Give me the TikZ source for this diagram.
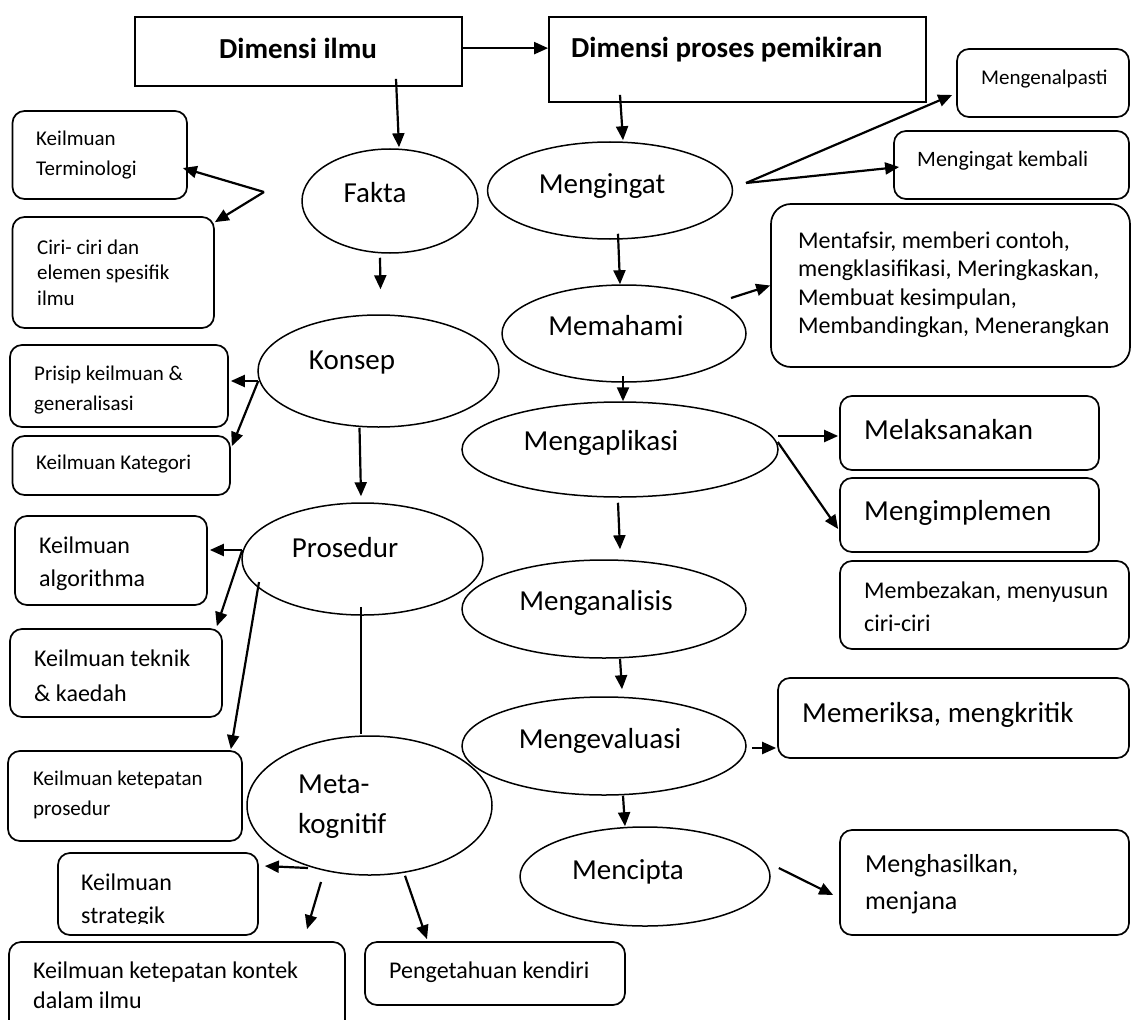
\documentclass[tikz,border=0pt]{standalone}
\usepackage{fontspec}
\setmainfont{Carlito}
\usetikzlibrary{arrows.meta,shapes.geometric,calc}

\begin{document}
\begin{tikzpicture}[x=1pt,y=-1pt,
  box/.style={draw, line width=1.7pt, rounded corners=12pt, inner sep=0pt},
  sharpbox/.style={draw, line width=1.8pt, inner sep=0pt},
  oval/.style={draw, ellipse, line width=1.5pt, inner sep=0pt},
  txt/.style={anchor=base west, inner sep=0pt},
  ctxt/.style={anchor=base, inner sep=0pt},
  arr/.style={line width=2.2pt, -{Triangle[length=14pt,width=12pt]}},
  link/.style={line width=2.2pt},
  big/.style={font=\fontsize{29}{40}\selectfont},
  bigbold/.style={font=\fontsize{29}{35}\selectfont\bfseries}
]
\clip (0,0) rectangle (1131,1019);

% ---------- headings ----------
\node[sharpbox, minimum width=327pt, minimum height=69pt] (ilmu) at (298.5,51.5) {};
\node[sharpbox, minimum width=377pt, minimum height=85pt] (proses) at (737.5,59.5) {};
\node[ctxt, bigbold] (ilmuT) at (298,58.2) {Dimensi ilmu};
\node[txt, bigbold] (prosesT) at (571,57.2) {Dimensi proses pemikiran};

% ---------- knowledge column (ellipses) ----------
\node[oval, minimum width=176pt, minimum height=104pt] (fakta) at (390,201) {};
\node[oval, minimum width=241pt, minimum height=112pt] (konsep) at (378.5,371) {};
\node[oval, minimum width=241pt, minimum height=112pt] (prosedur) at (362.5,559) {};
\node[oval, minimum width=245pt, minimum height=139pt] (meta) at (369.5,805.5) {};
\node[ctxt, big] (faktaT) at (375,202.2) {Fakta};
\node[ctxt, big] (konsepT) at (352,369.2) {Konsep};
\node[ctxt, big] (prosedurT) at (345,557.2) {Prosedur};
\node[txt, big] (metaT) at (298,793.2) {\begin{tabular}[t]{@{}l@{}}Meta-\\kognitif\end{tabular}};

% ---------- thinking column (ellipses) ----------
\node[oval, minimum width=245pt, minimum height=97pt] (ingat) at (610,190.5) {};
\node[oval, minimum width=244pt, minimum height=97pt] (paham) at (624,333.5) {};
\node[oval, minimum width=316pt, minimum height=95pt] (aplikasi) at (620,449.5) {};
\node[oval, minimum width=284pt, minimum height=98pt] (analisis) at (604,609) {};
\node[oval, minimum width=284pt, minimum height=98pt] (evaluasi) at (604,746) {};
\node[oval, minimum width=250pt, minimum height=99pt] (cipta) at (645,876.5) {};
\node[ctxt, big] (ingatT) at (602,193.2) {Mengingat};
\node[ctxt, big] (pahamT) at (616,335.2) {Memahami};
\node[ctxt, big] (aplikasiT) at (601,450.2) {Mengaplikasi};
\node[ctxt, big] (analisisT) at (596,610.2) {Menganalisis};
\node[ctxt, big] (evaluasiT) at (600,748.2) {Mengevaluasi};
\node[ctxt, big] (ciptaT) at (628,879.2) {Mencipta};

% ---------- left boxes ----------
\node[box, minimum width=174.5pt, minimum height=88pt] (termi) at (99.75,155) {};
\node[txt, font=\fontsize{21}{30}\selectfont] (termiT) at (36,145.4)
  {\begin{tabular}[t]{@{}l@{}}Keilmuan\\Terminologi\end{tabular}};
\node[box, minimum width=201.5pt, minimum height=111pt] (ciri) at (113.25,272.5) {};
\node[txt, font=\fontsize{21}{25.5}\selectfont] (ciriT) at (37,254.4)
  {\begin{tabular}[t]{@{}l@{}}Ciri- ciri dan\\elemen spesifik\\ilmu\end{tabular}};
\node[box, minimum width=218pt, minimum height=82pt] (prisip) at (119,386) {};
\node[txt, font=\fontsize{21}{30}\selectfont] (prisipT) at (34,380.4)
  {\begin{tabular}[t]{@{}l@{}}Prisip keilmuan \&\\generalisasi\end{tabular}};
\node[box, minimum width=217.5pt, minimum height=59pt] (kategori) at (121.25,465.5) {};
\node[txt, font=\fontsize{21}{30}\selectfont] (kategoriT) at (36,469.4) {Keilmuan Kategori};
\node[box, minimum width=192pt, minimum height=89pt] (algo) at (111,560.5) {};
\node[txt, font=\fontsize{24}{33}\selectfont] (algoT) at (39,553.4)
  {\begin{tabular}[t]{@{}l@{}}Keilmuan\\algorithma\end{tabular}};
\node[box, minimum width=212pt, minimum height=88pt] (teknik) at (116,673) {};
\node[txt, font=\fontsize{24}{35}\selectfont] (teknikT) at (34,666.4)
  {\begin{tabular}[t]{@{}l@{}}Keilmuan teknik\\\& kaedah\end{tabular}};
\node[box, minimum width=234pt, minimum height=90pt] (ketprose) at (125,796) {};
\node[txt, font=\fontsize{21}{30}\selectfont] (ketproseT) at (33,785.4)
  {\begin{tabular}[t]{@{}l@{}}Keilmuan ketepatan\\prosedur\end{tabular}};
\node[box, minimum width=200pt, minimum height=82pt] (strat) at (158,894) {};
\begin{scope}
  \clip (strat.north west) rectangle ($(strat.south east)+(0,-12)$);
  \node[txt, font=\fontsize{24}{33}\selectfont] (stratT) at (81,890.4)
    {\begin{tabular}[t]{@{}l@{}}Keilmuan\\strategik\end{tabular}};
\end{scope}
\node[box, minimum width=336pt, minimum height=96pt] (kontek) at (177,990) {};
\node[txt, font=\fontsize{24}{30}\selectfont] (kontekT) at (33,978.4)
  {\begin{tabular}[t]{@{}l@{}}Keilmuan ketepatan kontek\\dalam ilmu\end{tabular}};
\node[box, minimum width=260pt, minimum height=63pt] (penget) at (495,973.5) {};
\node[txt, font=\fontsize{24}{30}\selectfont] (pengetT) at (389,978.4) {Pengetahuan kendiri};

% ---------- right boxes ----------
\node[box, minimum width=172pt, minimum height=68pt] (kenal) at (1043,83) {};
\node[txt, font=\fontsize{21}{30}\selectfont] (kenalT) at (981,84.4) {Mengenalpasti};
\node[box, minimum width=235pt, minimum height=68pt] (kembali) at (1011.5,165) {};
\node[txt, font=\fontsize{22}{30}\selectfont] (kembaliT) at (917,166.7) {Mengingat kembali};
\node[box, rounded corners=20pt, minimum width=359pt, minimum height=163pt] (tafsir) at (950.5,285.5) {};
\node[txt, font=\fontsize{24}{28.3}\selectfont] (tafsirT) at (798,248.4)
  {\begin{tabular}[t]{@{}l@{}}Mentafsir, memberi contoh,\\mengklasifikasi, Meringkaskan,\\Membuat kesimpulan,\\Membandingkan, Menerangkan\end{tabular}};
\node[box, minimum width=259pt, minimum height=74pt] (laksana) at (969.5,433) {};
\node[txt, big] (laksanaT) at (864,439.2) {Melaksanakan};
\node[box, minimum width=259pt, minimum height=74pt] (implemen) at (969.5,515) {};
\node[txt, big] (implemenT) at (864,520.2) {Mengimplemen};
\node[box, minimum width=289pt, minimum height=88pt] (beza) at (984.5,605) {};
\node[txt, font=\fontsize{24}{33}\selectfont] (bezaT) at (864,598.4)
  {\begin{tabular}[t]{@{}l@{}}Membezakan, menyusun\\ciri-ciri\end{tabular}};
\node[box, minimum width=351pt, minimum height=80pt] (periksa) at (953.5,718) {};
\node[txt, big] (periksaT) at (802,722.2) {Memeriksa, mengkritik};
\node[box, minimum width=289pt, minimum height=105pt] (hasil) at (984.5,882.5) {};
\node[txt, font=\fontsize{26}{37}\selectfont] (hasilT) at (865,872.1)
  {\begin{tabular}[t]{@{}l@{}}Menghasilkan,\\menjana\end{tabular}};

% ---------- connectors: headings ----------
\draw[arr] (ilmu.east |- ilmuT.center) -- (proses.west |- ilmuT.center);
\draw[arr] ($(ilmu.south)+(97.5,-8)$) -- ($(fakta.north)+(9,-1)$);
\draw[arr] ($(proses.south)+(-117.5,-8)$) -- ($(ingat.north)+(13,-1)$);

% ---------- connectors: knowledge column ----------
\coordinate (fsplit) at (264,192);
\draw[arr] (fsplit) -- ($(termi.east)+(-5,13)$);
\draw[arr] (fsplit) -- ($(ciri.north east)+(0,6)$);
\draw[arr] ($(fakta.south)+(-10,4)$) -- ($(konsep.north)+(2,-25)$);
\draw[arr] ($(konsep.south)+(-19,0)$) -- ($(prosedur.north)+(-1.5,-6)$);
\draw[arr] ($(konsep.west)+(1,10)$) -- ($(prisip.east)+(2,-5)$);
\draw[arr] ($(konsep.west)+(1,10)$) -- ($(kategori.north east)+(1,11)$);
\draw[arr] ($(prosedur.west)+(1,-9)$) -- ($(algo.east)+(2,-10.5)$);
\draw[arr] ($(prosedur.west)+(1,-9)$) -- ($(teknik.north east)+(-6,-2)$);
\draw[arr] ($(prosedur.center)+(-103.5,23)$) -- ($(ketprose.north east)+(-12,-1)$);
\draw[link] ($(prosedur.south)+(-1.5,-9)$) -- ($(meta.north)+(-8.5,-1)$);
\draw[arr] ($(meta.center)+(-61.5,62.5)$) -- ($(strat.east)+(6,-28)$);
\draw[arr] ($(meta.center)+(-48.5,76.5)$) -- ($(kontek.north)+(130,-12)$);
\draw[arr] ($(meta.south)+(35.5,0)$) -- ($(penget.north)+(-68,-2)$);

% ---------- connectors: thinking column ----------
\coordinate (isplit) at (746,183);
\draw[arr] (isplit) -- ($(kenal.west)+(-4,12)$);
\draw[arr] (isplit) -- ($(kembali.west)+(6,2)$);
\draw[arr] ($(ingat.south)+(8,-6)$) -- ($(paham.north)+(-4,0)$);
\draw[arr] ($(paham.center)+(107,-35.5)$) -- (tafsir.west);
\draw[arr] ($(paham.south)+(-1,-7)$) -- ($(aplikasi.north)+(3,0)$);
\draw[arr] ($(aplikasi.east)+(-1,-13.5)$) -- ($(laksana.west)+(-1,3)$);
\draw[arr] ($(aplikasi.east)+(-1,-7.5)$) -- ($(implemen.west)+(-1,14)$);
\draw[arr] ($(aplikasi.south)+(-2,5)$) -- ($(analisis.north)+(16,-10)$);
\draw[arr] ($(analisis.south)+(16,0)$) -- ($(evaluasi.north)+(18,-7)$);
\draw[arr] ($(evaluasi.east)+(5,2)$) -- ($(periksa.west)+(-1,30)$);
\draw[arr] ($(evaluasi.south)+(19,0)$) -- ($(cipta.north)+(-20,0)$);
\draw[arr] ($(cipta.east)+(8,-8.5)$) -- ($(hasil.west)+(-6,12.5)$);
\end{tikzpicture}
\end{document}
